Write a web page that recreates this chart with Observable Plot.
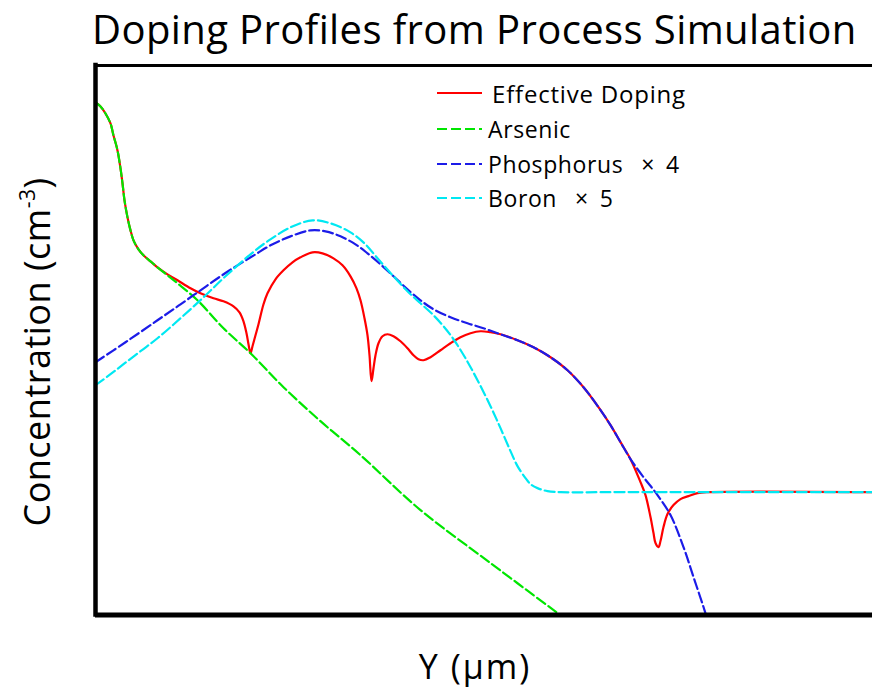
<!DOCTYPE html>
<html>
<head>
<meta charset="utf-8">
<script src="https://cdn.jsdelivr.net/npm/d3@7"></script>
<script src="https://cdn.jsdelivr.net/npm/@observablehq/plot@0.6"></script>
<style>
  html, body { margin: 0; padding: 0; background: #fff; overflow: hidden; }
  #wrap { position: relative; width: 872px; height: 689px; font-family: "Open Sans", sans-serif; color: #000; }
  #title { position: absolute; left: 92px; top: 1px; font-size: 40px; line-height: normal; letter-spacing: 0.4px; white-space: nowrap; }
  #chart { position: absolute; left: 0; top: 58px; }
  .legend-row { position: absolute; left: 437px; height: 24px; display: flex; align-items: center; white-space: nowrap; font-size: 23px; line-height: 23px; letter-spacing: 0.6px; }
  .legend-row svg { flex: none; }
  .legend-row .mult { margin-left: 18px; }
  .legend-row .factor { margin-left: 11px; }
</style>
</head>
<body>
<div id="wrap">
  <div id="title">Doping Profiles from Process Simulation</div>
  <div id="chart"></div>
  <div id="legend"></div>
</div>
<script>
// Depth along the cut, µm
const xDomain = [0, 1.554];
// log10 of concentration (cm^-3)
const yDomain = [15.5, 21];

// Effective (net) doping
const netX = [0, 0.010, 0.020, 0.030, 0.036, 0.044, 0.050, 0.054, 0.058, 0.064, 0.070, 0.076, 0.086, 0.096, 0.110, 0.124, 0.144, 0.164, 0.190, 0.210, 0.236, 0.256, 0.276, 0.288, 0.296, 0.302, 0.306, 0.310, 0.314, 0.320, 0.326, 0.336, 0.344, 0.360, 0.376, 0.394, 0.410, 0.434, 0.454, 0.476, 0.494, 0.510, 0.522, 0.530, 0.538, 0.544, 0.548, 0.552, 0.556, 0.560, 0.566, 0.574, 0.584, 0.596, 0.610, 0.624, 0.636, 0.646, 0.656, 0.670, 0.690, 0.710, 0.730, 0.750, 0.770, 0.790, 0.810, 0.844, 0.876, 0.910, 0.944, 0.976, 1.006, 1.030, 1.050, 1.070, 1.090, 1.100, 1.110, 1.116, 1.120, 1.126, 1.130, 1.136, 1.144, 1.156, 1.170, 1.186, 1.204, 1.224, 1.554];
const netY = [20.63, 20.59, 20.52, 20.42, 20.30, 20.15, 19.97, 19.82, 19.65, 19.48, 19.35, 19.25, 19.16, 19.10, 19.04, 18.98, 18.91, 18.85, 18.77, 18.72, 18.67, 18.64, 18.59, 18.53, 18.44, 18.32, 18.21, 18.12, 18.19, 18.30, 18.41, 18.61, 18.72, 18.86, 18.95, 19.03, 19.08, 19.13, 19.12, 19.07, 19.00, 18.89, 18.77, 18.65, 18.47, 18.30, 18.10, 17.84, 17.97, 18.10, 18.22, 18.29, 18.31, 18.29, 18.24, 18.17, 18.10, 18.06, 18.05, 18.08, 18.15, 18.22, 18.28, 18.32, 18.34, 18.33, 18.31, 18.25, 18.18, 18.08, 17.95, 17.78, 17.58, 17.40, 17.23, 17.06, 16.83, 16.70, 16.48, 16.32, 16.22, 16.18, 16.24, 16.38, 16.51, 16.60, 16.66, 16.69, 16.72, 16.73, 16.73];

// Arsenic
const asX = [0, 0.010, 0.020, 0.030, 0.036, 0.044, 0.050, 0.054, 0.058, 0.064, 0.070, 0.076, 0.086, 0.096, 0.110, 0.124, 0.144, 0.164, 0.204, 0.256, 0.310, 0.376, 0.450, 0.530, 0.650, 0.790, 0.924];
const asY = [20.63, 20.59, 20.52, 20.42, 20.30, 20.15, 19.97, 19.82, 19.65, 19.48, 19.35, 19.25, 19.16, 19.10, 19.04, 18.98, 18.90, 18.82, 18.65, 18.37, 18.12, 17.78, 17.44, 17.10, 16.55, 16.02, 15.52];

// Phosphorus (scaled × 4)
const phX = [0, 0.060, 0.124, 0.170, 0.210, 0.250, 0.284, 0.320, 0.350, 0.390, 0.430, 0.460, 0.490, 0.520, 0.544, 0.570, 0.596, 0.624, 0.650, 0.676, 0.710, 0.744, 0.776, 0.810, 0.844, 0.876, 0.910, 0.944, 0.976, 1.006, 1.030, 1.050, 1.070, 1.096, 1.124, 1.150, 1.176, 1.196, 1.216, 1.224];
const phY = [18.03, 18.23, 18.45, 18.61, 18.75, 18.89, 19.00, 19.11, 19.20, 19.29, 19.35, 19.34, 19.29, 19.21, 19.12, 19.01, 18.89, 18.76, 18.65, 18.56, 18.48, 18.42, 18.37, 18.31, 18.25, 18.18, 18.08, 17.95, 17.78, 17.58, 17.40, 17.23, 17.06, 16.88, 16.70, 16.50, 16.18, 15.88, 15.58, 15.45];

// Boron (scaled × 5)
const bX = [0, 0.030, 0.056, 0.090, 0.124, 0.170, 0.216, 0.260, 0.310, 0.344, 0.390, 0.434, 0.470, 0.510, 0.540, 0.564, 0.596, 0.624, 0.650, 0.676, 0.696, 0.716, 0.740, 0.764, 0.790, 0.810, 0.830, 0.844, 0.860, 0.870, 0.884, 0.904, 0.930, 1.050, 1.554];
const bY = [17.80, 17.91, 18.01, 18.14, 18.27, 18.47, 18.68, 18.89, 19.11, 19.24, 19.38, 19.45, 19.42, 19.33, 19.21, 19.07, 18.89, 18.74, 18.62, 18.50, 18.39, 18.26, 18.07, 17.85, 17.59, 17.37, 17.14, 16.99, 16.87, 16.81, 16.77, 16.74, 16.73, 16.73, 16.73];

// Legend entries
const legendLabels = ["Effective Doping", "Arsenic", "Phosphorus", "Boron"];
const legendFactors = [null, null, "4", "5"];
const seriesColors = ["#ff0000", "#00e600", "#1c1ce8", "#00e8f2"];
const seriesDashes = [null, "10,4", "10,4", "10,4"];

const toRows = (xs, ys) => xs.map((x, i) => ({x, y: ys[i]}));
const series = [toRows(netX, netY), toRows(asX, asY), toRows(phX, phY), toRows(bX, bY)];

const lineMarks = series.map((rows, i) => Plot.line(rows, {
  x: "x", y: "y",
  stroke: seriesColors[i],
  strokeWidth: 2.2,
  strokeDasharray: seriesDashes[i] ?? undefined,
  curve: "catmull-rom",
  clip: true
}));

const chart = Plot.plot({
  width: 872,
  height: 631,
  marginTop: 7,
  marginBottom: 74.5,
  marginLeft: 95,
  marginRight: 0,
  x: {domain: xDomain, axis: null},
  y: {domain: yDomain, axis: null},
  style: {background: "white"},
  marks: [
    ...lineMarks,
    Plot.ruleY([yDomain[1]], {stroke: "black", strokeWidth: 3}),
    Plot.ruleY([yDomain[0]], {stroke: "black", strokeWidth: 5}),
    Plot.ruleX([xDomain[0]], {stroke: "black", strokeWidth: 4.5, strokeLinecap: "square"})
  ]
});

// Axis titles (the y title carries a superscript)
const svg = d3.select(chart);
svg.append("text")
  .attr("x", 475).attr("y", 621)
  .attr("text-anchor", "middle")
  .attr("font-family", "'Open Sans', sans-serif")
  .attr("font-size", 34)
  .attr("letter-spacing", 2)
  .attr("fill", "black")
  .text("Y (µm)");
const yt = svg.append("text")
  .attr("transform", "translate(50,294) rotate(-90)")
  .attr("text-anchor", "middle")
  .attr("font-family", "'Open Sans', sans-serif")
  .attr("font-size", 36)
  .attr("letter-spacing", 0.5)
  .attr("fill", "black");
yt.append("tspan").text("Concentration (cm");
yt.append("tspan").attr("font-size", 21).attr("dy", -15).text("-3");
yt.append("tspan").attr("dy", 15).text(")");

document.getElementById("chart").appendChild(chart);

// Legend
const legendTops = [81, 117, 152, 186];
const legend = document.getElementById("legend");
legendLabels.forEach((label, i) => {
  const row = document.createElement("div");
  row.className = "legend-row";
  row.style.top = legendTops[i] + "px";
  if (i === 0) { row.style.fontSize = "24px"; row.style.letterSpacing = "0.8px"; }
  const sample = d3.create("svg").attr("width", 45).attr("height", 6);
  sample.append("line")
    .attr("x1", 0).attr("x2", 45).attr("y1", 3).attr("y2", 3)
    .attr("stroke", seriesColors[i]).attr("stroke-width", 2.2)
    .attr("stroke-dasharray", seriesDashes[i]);
  row.appendChild(sample.node());
  const name = document.createElement("span");
  name.textContent = label;
  name.style.marginLeft = i === 0 ? "10px" : "6px";
  row.appendChild(name);
  if (legendFactors[i]) {
    const mult = document.createElement("span");
    mult.className = "mult";
    mult.textContent = "×";
    row.appendChild(mult);
    const f = document.createElement("span");
    f.className = "factor";
    f.textContent = legendFactors[i];
    row.appendChild(f);
  }
  legend.appendChild(row);
});
</script>
</body>
</html>
